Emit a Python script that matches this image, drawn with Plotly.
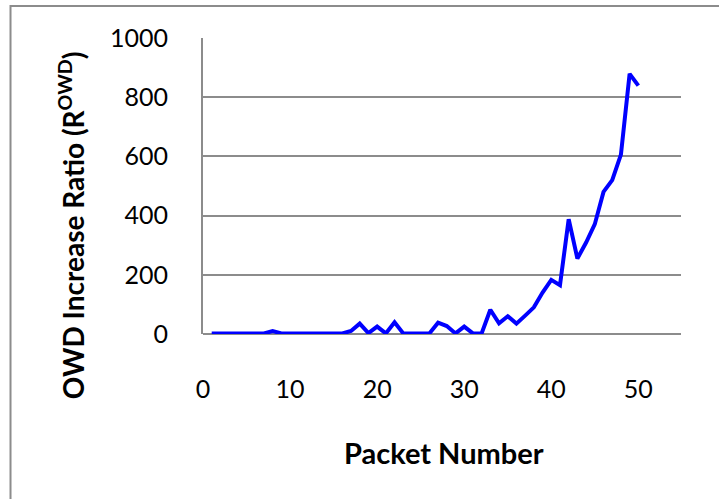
import plotly.graph_objects as go

# packet number vs. OWD increase ratio
packet = list(range(1, 51))
owd_ratio = [
    2, 2, 2, 2, 2, 2, 2, 10, 2, 2,
    2, 2, 2, 2, 2, 2, 10, 35, 3, 25,
    2, 40, 2, 2, 2, 2, 38, 27, 2, 25,
    2, 2, 82, 36, 60, 35, 62, 90, 140, 183,
    165, 388, 255, 309, 371, 480, 520, 606, 879, 839,
]
x_ticks = [0, 10, 20, 30, 40, 50]
y_ticks = [0, 200, 400, 600, 800, 1000]

FONT = "Lato"
GRID = "#8c8c8c"

fig = go.Figure()
fig.add_trace(go.Scatter(
    x=packet, y=owd_ratio, mode="lines",
    line=dict(color="#0000ff", width=4),
    showlegend=False,
))

fig.update_layout(
    width=719, height=499,
    margin=dict(l=203, r=38, t=38, b=165),
    paper_bgcolor="white", plot_bgcolor="white",
    font=dict(family=FONT, size=25, color="black"),
    # chart-area border (only left and top edges are inside the picture)
    shapes=[dict(type="rect", xref="paper", yref="paper",
                 x0=-0.4027, x1=1.2, y0=-0.7, y1=1.108,
                 line=dict(color=GRID, width=2), layer="below")],
    annotations=[
        dict(text="<b>OWD Increase Ratio (R<sup>OWD</sup>)</b>",
             xref="paper", yref="paper", x=-0.276, y=0.368,
             xanchor="center", yanchor="middle", textangle=-90,
             showarrow=False, font=dict(size=28, family=FONT)),
        dict(text="<b>Packet Number</b>",
             xref="paper", yref="paper", x=0.504, y=-0.399,
             xanchor="center", yanchor="middle",
             showarrow=False, font=dict(size=29, family=FONT)),
    ],
)
fig.update_xaxes(
    range=[0, 54.9], tickvals=x_ticks, showgrid=False,
    zeroline=False, showline=False, ticks="", automargin=False,
    ticklabelstandoff=38,
)
fig.update_yaxes(
    range=[0, 1000], tickvals=y_ticks, showgrid=True,
    gridcolor=GRID, gridwidth=2, zeroline=True, zerolinecolor=GRID,
    zerolinewidth=2, showline=True, linecolor=GRID, linewidth=2,
    ticks="", ticklabelstandoff=28, automargin=False,
)

fig.write_html("out.html", config={"displayModeBar": False},
               post_script="document.body.style.margin='0';")
